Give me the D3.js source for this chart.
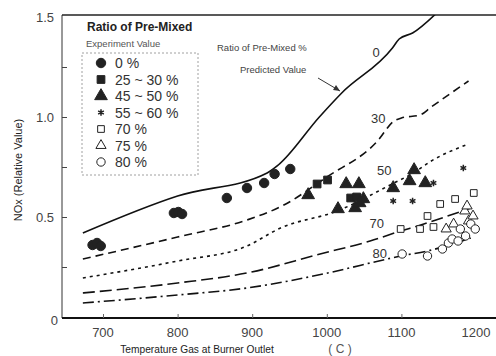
<!DOCTYPE html>
<html>
<head>
<meta charset="utf-8">
<script src="https://cdn.jsdelivr.net/npm/d3@7"></script>
<style>
  body { margin: 0; background: #fff; }
  text { font-family: "Liberation Sans", Arial, sans-serif; fill: #222; }
</style>
</head>
<body>
<div id="main"></div>
<script>
const ctx = {
    SVG_W: 496,
    SVG_H: 356,
};

// predicted curves: [temperature, NOx]
const curve0 = [[673, 0.42], [800, 0.605], [920, 0.72], [935, 0.76], [990, 1.0], [1020, 1.12], [1088, 1.345], [1097, 1.39], [1115, 1.42], [1150, 1.53]];
const curve30 = [[673, 0.29], [800, 0.40], [893, 0.485], [940, 0.555], [1000, 0.70], [1068, 0.88], [1090, 0.98], [1100, 0.995], [1125, 1.01], [1140, 1.05], [1190, 1.18]];
const curve50 = [[673, 0.195], [800, 0.28], [893, 0.355], [938, 0.445], [1014, 0.53], [1090, 0.67], [1116, 0.72], [1140, 0.78], [1190, 0.865]];
const curve70 = [[673, 0.12], [800, 0.17], [893, 0.22], [991, 0.315], [1058, 0.38], [1095, 0.425], [1130, 0.465], [1193, 0.545]];
const curve80 = [[673, 0.07], [800, 0.11], [893, 0.145], [995, 0.215], [1081, 0.29], [1099, 0.305], [1135, 0.33], [1193, 0.395]];
const curveLabels = ["0", "30", "50", "70", "80"];
const curveLabelPos = [[1066, 1.3], [1069, 0.97], [1077, 0.71], [1067, 0.445], [1071, 0.295]];

// experiment values
const pts0 = [[686, 0.36], [692, 0.37], [697, 0.355], [795, 0.52], [801, 0.525], [806, 0.515], [866, 0.595], [893, 0.645], [916, 0.67], [930, 0.715], [951, 0.74]];
const pts25 = [[987, 0.665], [1001, 0.685], [1032, 0.595], [1040, 0.6]];
const pts45 = [[975, 0.61], [1026, 0.665], [1043, 0.665], [1015, 0.54], [1038, 0.545], [1049, 0.59], [1044, 0.57], [1089, 0.645], [1111, 0.68], [1117, 0.735], [1132, 0.67]];
const pts55 = [[1089, 0.58], [1115, 0.58], [1143, 0.67], [1183, 0.745]];
const pts70 = [[1099, 0.44], [1125, 0.44], [1135, 0.505], [1152, 0.565], [1172, 0.59], [1197, 0.62], [1143, 0.45]];
const pts75 = [[1160, 0.44], [1170, 0.465], [1185, 0.53], [1190, 0.48], [1196, 0.505], [1188, 0.555]];
const pts80 = [[1101, 0.315], [1135, 0.305], [1155, 0.34], [1163, 0.37], [1168, 0.39], [1176, 0.38], [1179, 0.44], [1186, 0.405], [1193, 0.465], [1199, 0.44]];

const legendNames = ["0 %", "25 ~ 30 %", "45 ~ 50 %", "55 ~ 60 %", "70 %", "75 %", "80 %"];
const xTicks = [700, 800, 900, 1000, 1100, 1200];
const yTicks = [0, 0.5, 1.0, 1.5];
const yTickLabels = ["0", "0.5", "1.0", "1.5"];

function createViz() {
    let svg = d3.select("#main").append("svg")
        .attr("width", ctx.SVG_W)
        .attr("height", ctx.SVG_H);

    let x = d3.scaleLinear().domain([700, 1200]).range([103, 476]);
    let y = d3.scaleLinear().domain([0, 1.5]).range([317, 17]);
    const left = 62, bottom = 318, top = 15;

    svg.append("defs").append("clipPath").attr("id", "clip")
        .append("rect").attr("x", left).attr("y", top).attr("width", ctx.SVG_W - left).attr("height", bottom - top);

    // frame
    svg.append("line").attr("x1", left).attr("x2", left).attr("y1", top).attr("y2", bottom)
        .attr("stroke", "#333").attr("stroke-width", 1);
    svg.append("line").attr("x1", left).attr("x2", ctx.SVG_W).attr("y1", bottom).attr("y2", bottom)
        .attr("stroke", "#111").attr("stroke-width", 1.8);
    svg.append("line").attr("x1", left).attr("x2", ctx.SVG_W).attr("y1", top).attr("y2", top)
        .attr("stroke", "#222").attr("stroke-width", 1.5);

    // ticks (inward)
    let yAxis = d3.axisRight(y).tickValues([0.25, 0.5, 0.75, 1.0, 1.25]).tickSize(5).tickFormat("");
    svg.append("g").attr("transform", `translate(${left},0)`).call(yAxis)
        .call(g => g.select(".domain").remove())
        .selectAll("line").attr("stroke", "#444");
    let xAxis = d3.axisTop(x).tickValues(xTicks.slice(0, 5)).tickSize(4).tickFormat("");
    svg.append("g").attr("transform", `translate(0,${bottom})`).call(xAxis)
        .call(g => g.select(".domain").remove())
        .selectAll("line").attr("stroke", "#666");

    // tick labels
    svg.selectAll(".ylab").data(yTicks).enter().append("text")
        .attr("x", d => d === 0 ? 58 : 54).attr("y", d => d === 0 ? 325 : y(d) + 5)
        .attr("text-anchor", "end").attr("font-size", 13).style("fill", "#444")
        .text((d, i) => yTickLabels[i]);
    svg.selectAll(".xlab").data(xTicks).enter().append("text")
        .attr("x", d => x(d)).attr("y", 337)
        .attr("text-anchor", "middle").attr("font-size", 13).style("fill", "#444")
        .text(d => d);

    // axis titles
    svg.append("text").attr("x", 197).attr("y", 353).attr("text-anchor", "middle")
        .attr("font-size", 10.2).text("Temperature Gas at Burner Outlet");
    svg.append("text").attr("x", 340).attr("y", 353).attr("text-anchor", "middle")
        .attr("font-size", 12).style("fill", "#555").text("( C )");
    svg.append("text").attr("transform", "translate(22,170) rotate(-90)")
        .attr("text-anchor", "middle").attr("font-size", 11).text("NOx (Relative Value)");

    // curves
    let line = d3.line().x(d => x(d[0])).y(d => y(d[1])).curve(d3.curveMonotoneX);
    let curves = [curve0, curve30, curve50, curve70, curve80];
    let dashes = [null, "8,5", "3,4", "12,5", "11,4,2,4"];
    let cg = svg.append("g").attr("clip-path", "url(#clip)");
    curves.forEach(function (c, i) {
        cg.append("path").attr("d", line(c)).attr("fill", "none")
            .attr("stroke", "#111").attr("stroke-width", 1.6)
            .attr("stroke-dasharray", dashes[i]);
    });
    svg.selectAll(".clab").data(curveLabels).enter().append("text")
        .attr("x", (d, i) => x(curveLabelPos[i][0])).attr("y", (d, i) => y(curveLabelPos[i][1]))
        .attr("text-anchor", "middle").attr("font-size", 13).style("fill", "#333")
        .text(d => d);

    // annotation
    svg.append("text").attr("x", 217).attr("y", 51).attr("font-size", 9.5).style("fill", "#444")
        .text("Ratio of Pre-Mixed    %");
    svg.append("text").attr("x", 240).attr("y", 73).attr("font-size", 9.5).style("fill", "#444")
        .text("Predicted Value");
    svg.append("line").attr("x1", 318).attr("y1", 78).attr("x2", 340).attr("y2", 91)
        .attr("stroke", "#333").attr("stroke-width", 1);
    svg.append("path").attr("d", "M340,91 L333,90 L336,85 Z").attr("fill", "#333");

    // markers
    let series = [pts0, pts25, pts45, pts55, pts70, pts75, pts80];
    let symbols = [d3.symbolCircle, d3.symbolSquare, d3.symbolTriangle, d3.symbolAsterisk, d3.symbolSquare, d3.symbolTriangle, d3.symbolCircle];
    let sizes = [70, 60, 70, 30, 45, 45, 55];
    let filled = [true, true, true, false, false, false, false];
    function drawSym(g, i) {
        g.attr("d", d3.symbol().type(symbols[i]).size(sizes[i])())
            .attr("fill", filled[i] ? "#222" : "white")
            .attr("stroke", "#222").attr("stroke-width", i === 3 ? 1.5 : 1);
    }
    series.forEach(function (s, i) {
        svg.append("g").selectAll("path").data(s).enter().append("path")
            .attr("transform", d => `translate(${x(d[0])},${y(d[1])})`)
            .call(g => drawSym(g, i));
    });

    // legend
    svg.append("text").attr("x", 87).attr("y", 31).attr("font-size", 12).attr("font-weight", "bold")
        .text("Ratio of Pre-Mixed");
    svg.append("text").attr("x", 86).attr("y", 47).attr("font-size", 9.5).style("fill", "#555")
        .text("Experiment Value");
    svg.append("rect").attr("x", 82).attr("y", 53).attr("width", 116).attr("height", 122)
        .attr("fill", "none").attr("stroke", "#888").attr("stroke-width", 0.8).attr("stroke-dasharray", "2,2");
    legendNames.forEach(function (n, i) {
        let ly = 63 + i * 16.5;
        svg.append("path").attr("transform", `translate(101,${ly})`).call(g => drawSym(g, i));
        svg.append("text").attr("x", 115).attr("y", ly + 5).attr("font-size", 14).style("fill", "#333")
            .text(n);
    });
}

createViz();
</script>
</body>
</html>
